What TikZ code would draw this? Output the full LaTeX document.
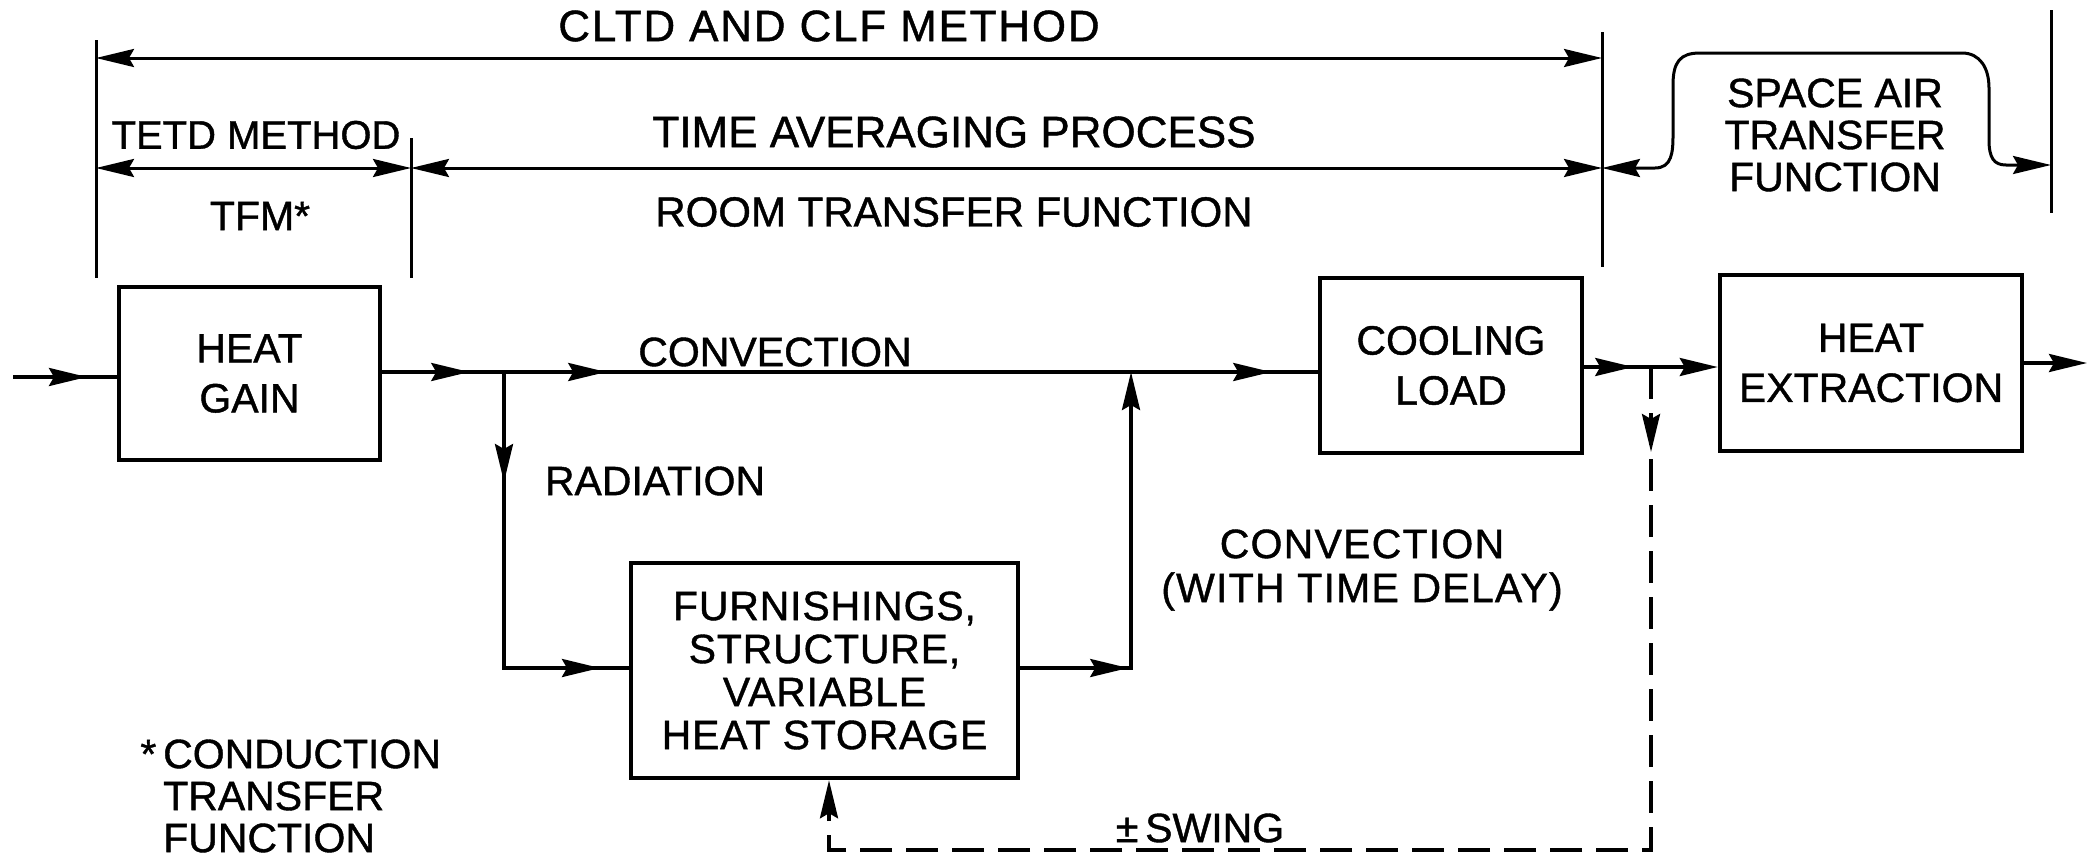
\documentclass[tikz,border=0pt]{standalone}
\usepackage{fontspec}
\setmainfont{Liberation Sans}[FakeBold=1]
\usetikzlibrary{arrows.meta,decorations.markings}
\tikzset{
  every node/.style={font=\fontsize{41}{50}\selectfont, inner sep=0pt},
  box/.style={draw, line width=4.5pt, align=center},
  conn/.style={line width=3.5pt},
  guide/.style={line width=3pt},
  fb/.style={dash pattern=on 32pt off 14pt},
  midarr/.style={postaction={decorate, solid, decoration={markings, mark=at position #1 with {\arrow{>}}}}}
}
\begin{document}
\begin{tikzpicture}[x=1pt,y=-1pt, >={Stealth[length=38pt,width=18pt,inset=5pt]}]
\useasboundingbox (0,0) rectangle (2089,857);

% guide lines
\coordinate (g1t) at (96,40);   \coordinate (g1b) at (96,278);
\coordinate (g2t) at (411,138); \coordinate (g2b) at (411,278);
\coordinate (g3t) at (1602,32); \coordinate (g3b) at (1602,267);
\coordinate (g4t) at (2051,10); \coordinate (g4b) at (2051,213);
\draw[guide] (g1t) -- (g1b);
\draw[guide] (g2t) -- (g2b);
\draw[guide] (g3t) -- (g3b);
\draw[guide] (g4t) -- (g4b);

\coordinate (c1) at (96,58); \coordinate (c3) at (1602,58);
\draw[guide,<->] (c1) -- (c3);
\coordinate (r1) at (96,168); \coordinate (r2) at (411,168); \coordinate (r3) at (1602,168);
\draw[guide,<->] (r1) -- (r2);
\draw[guide,<->] (r2) -- (r3);
\coordinate (b4) at (2051,165);
\draw[guide,<->] (r3) -- (1655,168) .. controls (1672,168) and (1673,152) .. (1673,135)
  -- (1673,85) .. controls (1673,62) and (1680,53) .. (1700,53) -- (1962,53)
  .. controls (1980,53) and (1989,68) .. (1989,88) -- (1989,140)
  .. controls (1989,158) and (1994,165) .. (2006,165) -- (b4);

% header texts
\node[font=\fontsize{44}{50}\selectfont\addfontfeatures{LetterSpace=4}] (tcltd) at (829,26) {CLTD AND CLF METHOD};
\node[font=\fontsize{40}{50}\selectfont] (ttetd) at (256,135) {TETD METHOD};
\node[font=\fontsize{44}{50}\selectfont] (ttap) at (954,132) {TIME AVERAGING PROCESS};
\node (ttfm) at (260,216) {TFM*};
\node[font=\fontsize{42}{50}\selectfont] (trtf) at (954,212) {ROOM TRANSFER FUNCTION};
\node[align=center, font=\fontsize{41}{42}\selectfont] (tsat) at (1835,135) {SPACE AIR\\TRANSFER\\FUNCTION};

% boxes
\node[box, minimum width=261pt, minimum height=173pt] (gain) at (249.5,373.5) {HEAT\\GAIN};
\node[box, minimum width=262pt, minimum height=175pt] (cool) at (1451,365.5) {COOLING\\LOAD};
\node[box, minimum width=302pt, minimum height=176pt] (extr) at (1871,363) {HEAT\\EXTRACTION};
\node[box, minimum width=387pt, minimum height=215pt, font=\fontsize{41}{43}\selectfont\addfontfeatures{LetterSpace=2}] (furn) at (824.5,670.5) {FURNISHINGS,\\STRUCTURE,\\VARIABLE\\HEAT STORAGE};

% connectors
\coordinate (in) at (13,377);
\draw[conn, midarr=74pt] (in) -- (gain.west |- in);
\coordinate (j1) at (504,372); \coordinate (j2) at (1131,372);
\draw[conn, midarr=87pt, midarr=224pt, midarr=889pt] (gain.east |- j1) -- (cool.west |- j1);
\coordinate (k1) at (504,668);
\draw[conn, midarr=110pt, midarr=392pt] (j1) -- (k1) -- (furn.west |- k1);
\coordinate (k2) at (1131,668);
\draw[conn, midarr=108pt, ->] (furn.east |- k2) -- (k2) -- (j2);
\coordinate (j3) at (1651,367);
\draw[conn, midarr=49pt, ->] (cool.east |- j3) -- (extr.west |- j3);
\coordinate (d1) at (1651,850); \coordinate (d2) at (829,850);
\draw[conn, fb, midarr=85pt, ->] (j3) -- (d1) -- (d2) -- (d2 |- furn.south);
\coordinate (out) at (2087,363);
\draw[conn, ->] (extr.east |- out) -- (out);

% labels
\node (tconv) at (775,352) {CONVECTION};
\node (trad) at (655,481) {RADIATION};
\node[align=center, font=\fontsize{41}{44}\selectfont\addfontfeatures{LetterSpace=3}] (tconv2) at (1362,570) {CONVECTION\\(WITH TIME DELAY)};
\node (tswing) at (1200,828) {±\,SWING};
\node[align=left, anchor=west, font=\fontsize{41}{42}\selectfont] (tfoot) at (163,796) {\llap{*\,}CONDUCTION\\TRANSFER\\FUNCTION};
\end{tikzpicture}
\end{document}
